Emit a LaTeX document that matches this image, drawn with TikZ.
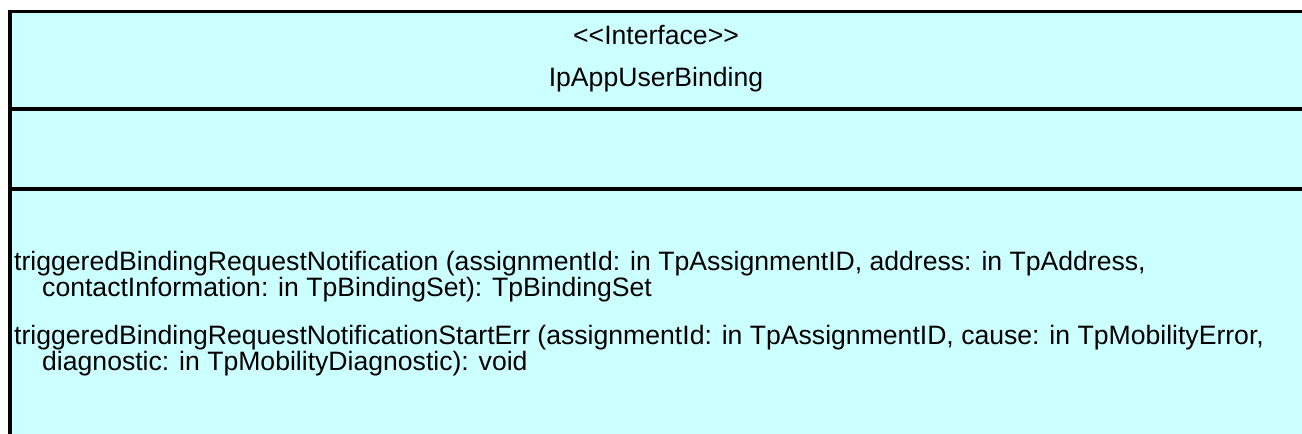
\documentclass[tikz,border=0pt]{standalone}
\usepackage{fontspec}
\setmainfont{Liberation Sans}
\definecolor{umlcyan}{HTML}{CCFFFF}
\tikzset{%
  classfill/.style = {fill=umlcyan, draw=none},%
  frame/.style     = {line width=3.8pt, line cap=rect},%
  headtext/.style  = {inner sep=0pt, anchor=base, font=\fontsize{26.6}{28}\selectfont},%
  optext/.style    = {inner sep=0pt, anchor=base west, font=\fontsize{26.6}{28}\selectfont}%
}
\begin{document}
\begin{tikzpicture}[x=1pt, y=-1pt]%
	\useasboundingbox (0,0) rectangle (1302,434);%
	% class box, cut off at the right and bottom
	\fill [classfill] (10,11.5) rectangle (1302,434);%
	\coordinate (tl) at (10,11.5);%
	\coordinate (tr) at (1302,11.5);%
	\coordinate (bl) at (10,434);%
	\coordinate (d1l) at (10,109);%
	\coordinate (d1r) at (1302,109);%
	\coordinate (d2l) at (10,189);%
	\coordinate (d2r) at (1302,189);%
	\draw [frame] (bl) -- (tl) -- (tr);%
	\draw [frame] (d1l) -- (d1r);%
	\draw [frame] (d2l) -- (d2r);%
	% name compartment
	\node [headtext] (stereo) at (656,44) {<\kern0pt<Interface>\kern0pt>};%
	\node [headtext] (classname) at (656,86) {IpAppUserBinding};%
	% operations compartment
	\node [optext] (op1) at (14,270) {triggeredBindingRequestNotification (assignmentId: in TpAssignmentID, address: in TpAddress,};%
	\node [optext] (op1cont) at (42,296) {contactInformation: in TpBindingSet): TpBindingSet};%
	\node [optext] (op2) at (14,344) {triggeredBindingRequestNotificationStartErr (assignmentId: in TpAssignmentID, cause: in TpMobilityError,};%
	\node [optext] (op2cont) at (42,370) {diagnostic: in TpMobilityDiagnostic): void};%
\end{tikzpicture}
\end{document}
